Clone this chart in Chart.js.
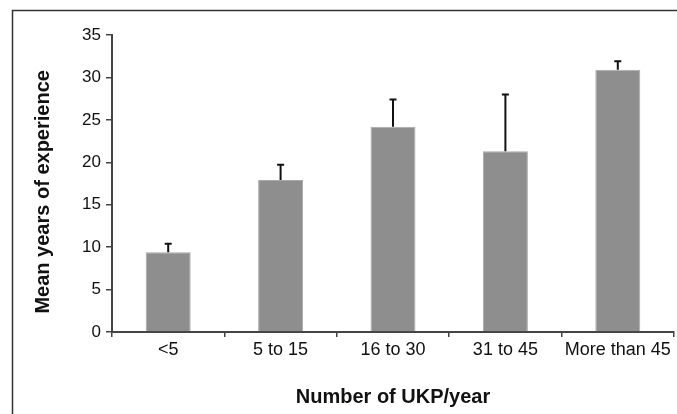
<!DOCTYPE html>
<html>
<head>
<meta charset="utf-8">
<script src="https://cdn.jsdelivr.net/npm/chart.js@4/dist/chart.umd.min.js"></script>
<style>
  html, body { margin: 0; padding: 0; background: #fff; overflow: hidden; }
  #wrap { width: 720px; height: 414px; }
</style>
</head>
<body>
<div id="wrap"><canvas id="c"></canvas></div>
<script>
'use strict';
// Mean years of experience by UKP volume — bars + upper error whiskers.
const CATS = ['<5', '5 to 15', '16 to 30', '31 to 45', 'More than 45'];
const MEANS = [9.4, 17.9, 24.2, 21.3, 30.9];
const ERRS = [1.0, 1.8, 3.2, 6.7, 1.0];
const FONT = '"Liberation Sans", Arial, Helvetica, sans-serif';

// cadre de la figure (coin haut-gauche, rogné à droite et en bas)
const frame = {
  id: 'frame',
  beforeDraw(ch) {
    const c = ch.ctx; c.save();
    c.strokeStyle = '#333'; c.lineWidth = 1.5;
    c.strokeRect(12.5, 10.5, 900, 600);
    c.restore();
  }
};
// moustaches d'erreur (haut seulement)
const whiskers = {
  id: 'whiskers',
  afterDatasetsDraw(ch) {
    const c = ch.ctx, y = ch.scales.y, meta = ch.getDatasetMeta(0);
    c.save(); c.strokeStyle = '#111'; c.lineWidth = 2;
    meta.data.forEach((bar, i) => {
      const y0 = y.getPixelForValue(MEANS[i]), y1 = y.getPixelForValue(MEANS[i] + ERRS[i]);
      c.beginPath(); c.moveTo(bar.x, y0); c.lineTo(bar.x, y1);
      c.moveTo(bar.x - 3.5, y1); c.lineTo(bar.x + 3.5, y1); c.stroke();
    });
    c.restore();
  }
};

new Chart(document.getElementById('c').getContext('2d'), {
  type: 'bar',
  data: { labels: CATS, datasets: [{ data: MEANS, backgroundColor: '#8e8e8e', borderColor: '#a9a9a9', borderWidth: 1, barPercentage: 0.4, categoryPercentage: 1 }] },
  options: {
    responsive: true, maintainAspectRatio: false, animation: false,
    layout: { padding: { left: 31, top: 35, right: 46, bottom: 0 } },
    plugins: { legend: { display: false }, tooltip: { enabled: false } },
    scales: {
      x: {
        afterFit: s => { s.height = 82; },
        grid: { display: true, drawOnChartArea: false, drawTicks: true, tickLength: 5, color: '#444', lineWidth: 1.5 },
        border: { display: true, color: '#444', width: 2 },
        ticks: { color: '#111', padding: 2, font: { family: FONT, size: 18 } },
        title: { display: true, text: 'Number of UKP/year', color: '#111', padding: { top: 0, bottom: 5 }, font: { family: FONT, size: 20, weight: 'bold' } }
      },
      y: {
        min: 0, max: 35,
        afterFit: s => { s.width = 81; },
        grid: { display: true, drawOnChartArea: false, drawTicks: true, tickLength: 6, color: '#444', lineWidth: 1.5 },
        border: { display: true, color: '#444', width: 2 },
        ticks: { stepSize: 5, color: '#111', padding: 5, font: { family: FONT, size: 17 } },
        title: { display: true, text: 'Mean years of experience   ', color: '#111', padding: { top: 0, bottom: 0 }, font: { family: FONT, size: 20, weight: 'bold' } }
      }
    }
  },
  plugins: [frame, whiskers]
});
</script>
</body>
</html>
